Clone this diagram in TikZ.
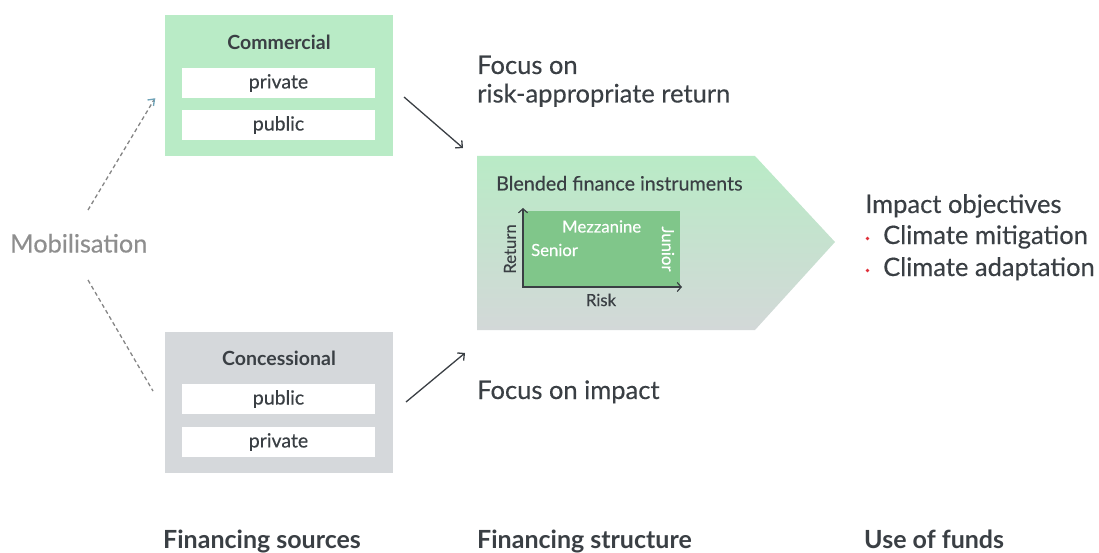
\documentclass[tikz,border=0pt]{standalone}
\usepackage{fontspec}
\setmainfont{Lato}
\newfontfamily\medfont{Lato}[FakeBold=0.3]
\usetikzlibrary{arrows.meta,calc}
\definecolor{cgreen}{HTML}{B9EBC6}
\definecolor{cgray}{HTML}{D5D8DB}
\definecolor{pgreen}{HTML}{B9EBC6}
\definecolor{pgray}{HTML}{D3D8D8}
\definecolor{igreen}{HTML}{80C68A}
\definecolor{txt}{HTML}{3A3F44}
\definecolor{mob}{HTML}{8E8E8E}
\definecolor{dash}{HTML}{858585}
\definecolor{tipblue}{HTML}{6FA3B8}
\definecolor{bred}{HTML}{E0303A}
\tikzset{
  srcbox/.style={fill=#1, draw=none, minimum width=228pt, minimum height=141pt, anchor=north west, inner sep=0pt},
  wbox/.style={fill=white, draw=none, minimum width=193pt, minimum height=30pt, inner sep=0pt, text=txt, font=\medfont\fontsize{19.5}{23}\selectfont},
  boxtitle/.style={anchor=base, text=txt, inner sep=0pt, font=\bfseries\fontsize{19.5}{23}\selectfont},
  big/.style={anchor=base west, text=txt, inner sep=0pt, font=\medfont\fontsize{25.5}{30}\selectfont},
  bigbold/.style={anchor=base west, text=txt, inner sep=0pt, font=\bfseries\fontsize{25}{30}\selectfont},
  small/.style={text=txt, inner sep=0pt, font=\medfont\fontsize{16.7}{20}\selectfont},
  inner/.style={text=white, inner sep=0pt, font=\medfont\fontsize{16.7}{20}\selectfont},
  flowarrow/.style={draw=txt, line width=1.3pt, -{Straight Barb[length=5pt,width=10pt]}},
  axis/.style={draw=txt, line width=1.2pt, -{Straight Barb[length=4pt,width=9pt]}},
  mobline/.style={draw=dash, line width=1.3pt, dash pattern=on 4pt off 3pt},
}
\begin{document}
\begin{tikzpicture}[x=1pt,y=-1pt]
\useasboundingbox (0,0) rectangle (1099,553);
% source boxes
\node[srcbox=cgreen] (comm) at (165,15) {};
\node[boxtitle] (commt) at (279,50) {Commercial};
\node[wbox] (cpriv) at (278.5,83) {private};
\node[wbox] (cpub) at (278.5,125) {public};
\node[srcbox=cgray] (conc) at (165,332) {};
\node[boxtitle] (conct) at (279,365) {Concessional};
\node[wbox] (kpub) at (278.5,399) {public};
\node[wbox] (kpriv) at (278.5,442) {private};
% blended pentagon
\shade[top color=pgreen, bottom color=pgray] (477,156) -- (755,156) -- (835,242) -- (755,330) -- (477,330) -- cycle;
\coordinate (blend) at (477,156);
\node[anchor=base west, text=txt, inner sep=0pt, font=\medfont\fontsize{19.7}{23}\selectfont] (blendt) at (496,190.5) {Blended finance instruments};
\fill[igreen] (523,211) rectangle (680,286);
\coordinate (origin) at (523,287);
\coordinate (ytop) at (523,208);
\coordinate (xend) at (682,287);
\draw[axis] ($(origin)+(-0.6,0)$) -- (xend);
\draw[axis] ($(origin)+(0,0.6)$) -- (ytop);
\node[small, rotate=90] (ret) at (510,249) {Return};
\node[small, anchor=base] (risk) at (601,306) {Risk};
\node[inner, anchor=base west] (sen) at (531,256) {Senior};
\node[inner, anchor=base west] (mez) at (562,232.5) {Mezzanine};
\node[inner, rotate=-90] (jun) at (668,249) {Junior};
% flow arrows
\coordinate (a1s) at (404,97);
\coordinate (a1e) at (463,148);
\coordinate (a2s) at (406,402);
\coordinate (a2e) at (465,353);
\draw[flowarrow] (a1s) -- (a1e);
\draw[flowarrow] (a2s) -- (a2e);
\node[big] (f1) at (477,74) {Focus on};
\node[big] (f2) at (477,102.5) {risk-appropriate return};
\node[big] (f3) at (477,399) {Focus on impact};
% impact
\node[big] (imp) at (865,213) {Impact objectives};
\node[big] (cm) at (883,244) {Climate mitigation};
\node[big] (ca) at (883,276) {Climate adaptation};
\fill[bred] (867.5,238.5) circle (1.8pt);
\fill[bred] (867.5,270.5) circle (1.8pt);
% mobilisation
\node[anchor=base west, text=mob, inner sep=0pt, font=\medfont\fontsize{25.3}{30}\selectfont] (mobt) at (10,252.5) {Mobilisation};
\coordinate (m1s) at (88,210);
\coordinate (m1e) at (154.5,99);
\coordinate (m2s) at (88,280);
\coordinate (m2e) at (153,391);
\draw[mobline] (m1s) -- (m1e);
\draw[draw=tipblue, line width=1.3pt] ($(m1e)+(-7,1)$) -- (m1e) -- ($(m1e)+(-1,7)$);
\draw[mobline] (m2s) -- (m2e);
% bottom labels
\node[bigbold] (l1) at (163,548) {Financing sources};
\node[bigbold] (l2) at (477,548) {Financing structure};
\node[bigbold] (l3) at (864,548) {Use of funds};
\end{tikzpicture}
\end{document}
